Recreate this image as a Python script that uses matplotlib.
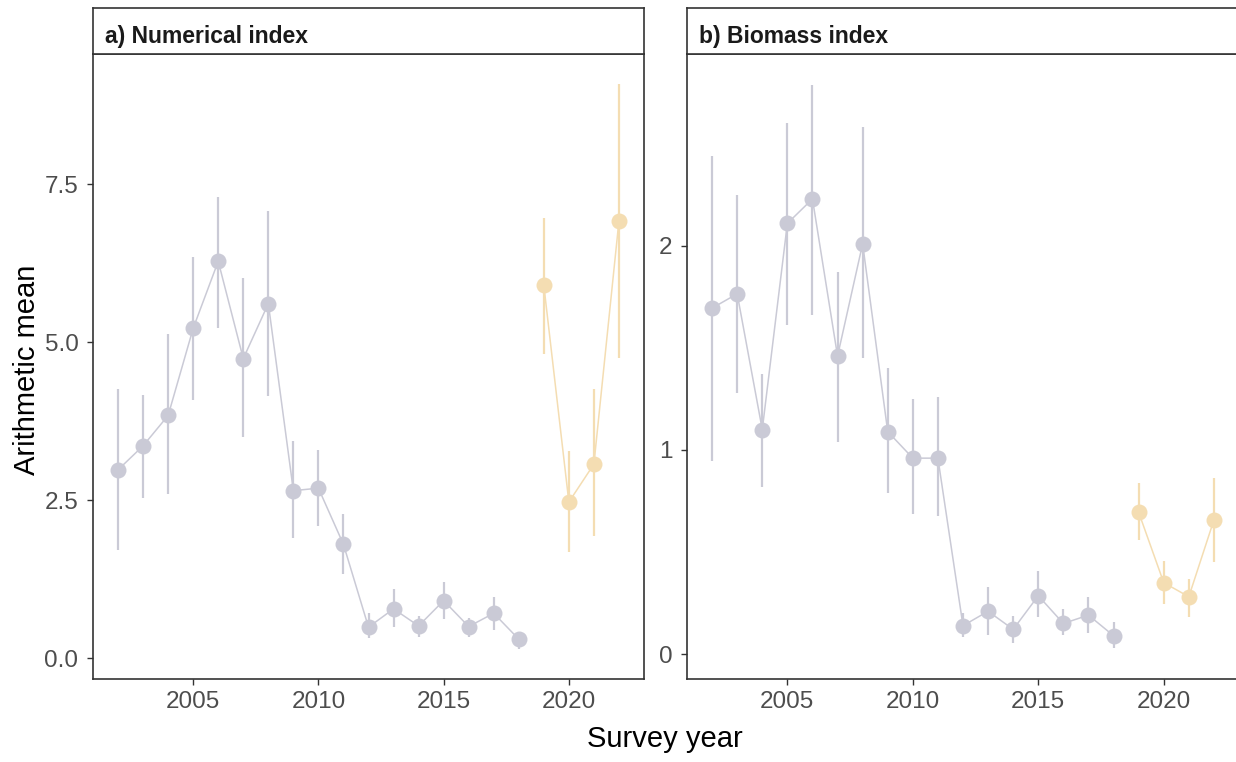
import matplotlib
matplotlib.use("Agg")
import matplotlib.pyplot as plt
import numpy as np

plt.rcParams["font.family"] = ["Liberation Sans", "DejaVu Sans"]

years = list(range(2002, 2023))

num_mean = [2.98, 3.36, 3.84, 5.22, 6.28, 4.74, 5.61, 2.65, 2.69, 1.80, 0.49, 0.78, 0.51,
            0.91, 0.50, 0.71, 0.30, 5.90, 2.47, 3.07, 6.92]
num_hi = [4.26, 4.17, 5.13, 6.34, 7.29, 6.02, 7.08, 3.43, 3.30, 2.28, 0.71, 1.09, 0.67,
          1.20, 0.64, 0.97, 0.41, 6.97, 3.27, 4.26, 9.08]
num_lo = [1.71, 2.54, 2.60, 4.08, 5.22, 3.50, 4.15, 1.90, 2.09, 1.33, 0.32, 0.49, 0.33,
          0.62, 0.34, 0.44, 0.14, 4.81, 1.68, 1.94, 4.75]

bio_mean = [1.695, 1.765, 1.10, 2.11, 2.23, 1.46, 2.01, 1.09, 0.96, 0.96, 0.139, 0.21, 0.121,
            0.286, 0.150, 0.191, 0.090, 0.695, 0.35, 0.281, 0.657]
bio_hi = [2.44, 2.25, 1.37, 2.60, 2.79, 1.87, 2.58, 1.40, 1.25, 1.26, 0.20, 0.327, 0.186,
          0.407, 0.219, 0.278, 0.155, 0.84, 0.456, 0.366, 0.861]
bio_lo = [0.946, 1.28, 0.82, 1.61, 1.66, 1.04, 1.45, 0.79, 0.686, 0.676, 0.085, 0.093, 0.055,
          0.183, 0.093, 0.105, 0.028, 0.56, 0.244, 0.183, 0.452]

period = ["old"] * 17 + ["new"] * 4
colors = {"old": "#CACAD6", "new": "#F4DDB2"}

titles = ["a) Numerical index", "b) Biomass index"]
y_ticks = [[0.0, 2.5, 5.0, 7.5], [0, 1, 2]]
y_ticklabels = [["0.0", "2.5", "5.0", "7.5"], ["0", "1", "2"]]
y_lims = [(-0.33, 9.56), (-0.122, 2.94)]
x_ticks = [2005, 2010, 2015, 2020]

W, H = 1236, 762
fig = plt.figure(figsize=(W / 100, H / 100), dpi=100)

panel_px = [(93, 644), (687, 1239)]
top_px, strip_top_px, bottom_px = 54, 8, 679

datasets = [(num_mean, num_lo, num_hi), (bio_mean, bio_lo, bio_hi)]
edge = "#333333"
tick_col = "#4D4D4D"

for i, (x0, x1) in enumerate(panel_px):
    ax = fig.add_axes([x0 / W, 1 - bottom_px / H, (x1 - x0) / W, (bottom_px - top_px) / H])
    mean, lo, hi = datasets[i]
    yrs = np.array(years)
    m = np.array(mean); l = np.array(lo); h = np.array(hi)
    per = np.array(period)
    for p in ["old", "new"]:
        sel = per == p
        c = colors[p]
        ax.plot(yrs[sel], m[sel], color=c, lw=1.1, zorder=2)
        ax.vlines(yrs[sel], l[sel], h[sel], color=c, lw=1.6, zorder=2)
        ax.plot(yrs[sel], m[sel], "o", color=c, ms=11.5, mec="none", zorder=3)
    ax.set_xlim(2001, 2023)
    ax.set_ylim(*y_lims[i])
    ax.set_xticks(x_ticks)
    ax.set_xticklabels([str(t) for t in x_ticks])
    ax.set_yticks(y_ticks[i])
    ax.set_yticklabels(y_ticklabels[i])
    ax.tick_params(axis="both", direction="out", length=4, width=1.0, color=edge,
                   labelcolor=tick_col, labelsize=17.5)
    ax.tick_params(axis="x", pad=4.5)
    ax.tick_params(axis="y", pad=6.5)
    for s in ax.spines.values():
        s.set_color(edge)
        s.set_linewidth(1.2)
    # strip
    sax = fig.add_axes([x0 / W, 1 - top_px / H, (x1 - x0) / W, (top_px - strip_top_px) / H])
    sax.set_xticks([]); sax.set_yticks([])
    sax.set_facecolor("white")
    for s in sax.spines.values():
        s.set_color(edge)
        s.set_linewidth(1.2)
    sax.text(12 / (x1 - x0), 0.25, titles[i], transform=sax.transAxes, ha="left", va="baseline",
             fontsize=16.5, fontweight="bold", color="#1A1A1A")

fig.text(27 / W, 1 - 370 / H, "Arithmetic mean", rotation=90, ha="center", va="center",
         fontsize=21, color="black")
fig.text(665 / W, 1 - 739 / H, "Survey year", ha="center", va="center",
         fontsize=21, color="black")

fig.savefig("out.png", dpi=100)
